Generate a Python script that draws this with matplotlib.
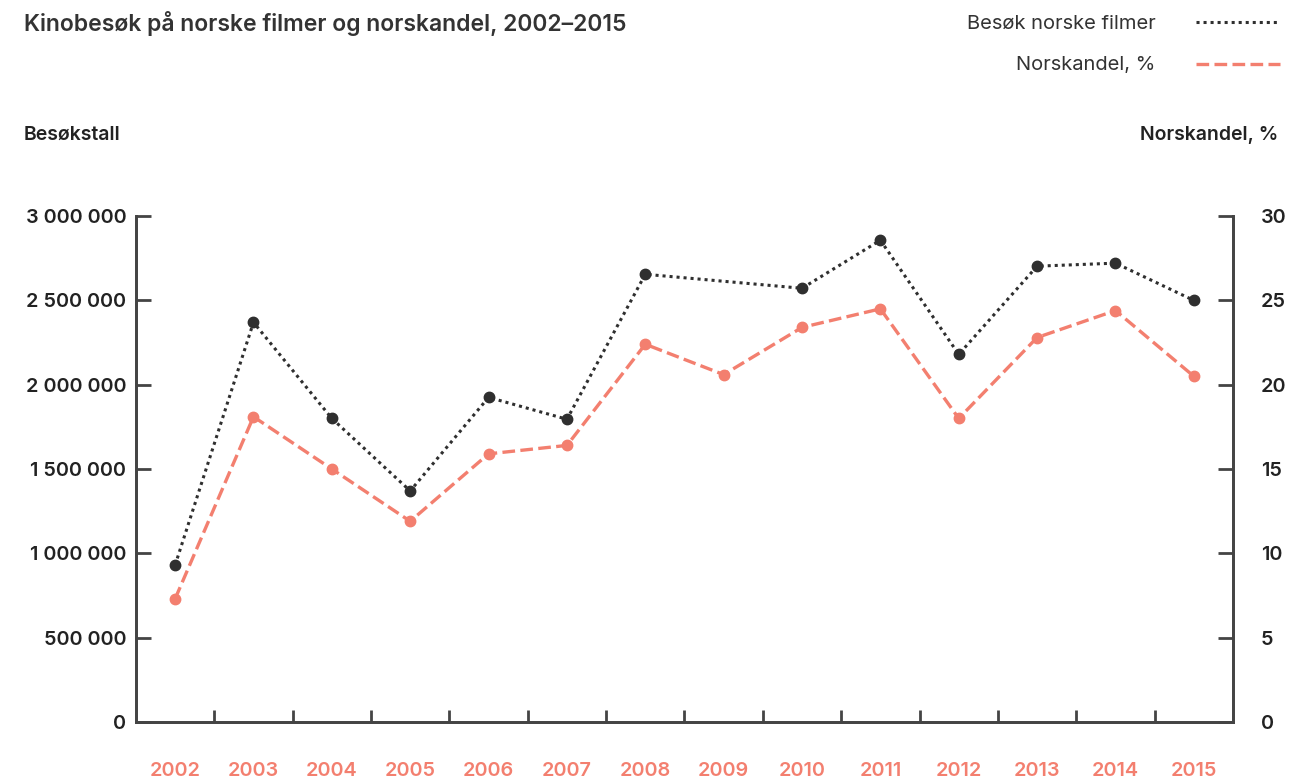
import numpy as np
import matplotlib
matplotlib.use("Agg")
import matplotlib.pyplot as plt
from matplotlib.lines import Line2D

years = [2002, 2003, 2004, 2005, 2006, 2007, 2008, 2009, 2010, 2011, 2012, 2013, 2014, 2015]
besok = [930000, 2370000, 1800000, 1370000, 1925000, 1795000, 2655000, np.nan,
         2572000, 2857000, 2180000, 2703000, 2721000, 2500000]
andel = [7.3, 18.1, 15.0, 11.9, 15.9, 16.4, 22.4, 20.6, 23.4, 24.5, 18.0, 22.8, 24.4, 20.5]
left_ticks = [0, 500000, 1000000, 1500000, 2000000, 2500000, 3000000]
right_ticks = [0, 5, 10, 15, 20, 25, 30]

plt.rcParams['font.family'] = ['Inter', 'DejaVu Sans']
dark = '#2f2f2f'
salmon = '#f37f6f'
axcol = '#444444'
dash = (0, (3.8, 1.6))

fig = plt.figure(figsize=(13.07, 7.83), dpi=100)
ax = fig.add_axes([0.104, 0.078, 0.8394, 0.646])
ax2 = ax.twinx()

x = np.arange(len(years))
b = np.array(besok, dtype=float)
ok = ~np.isnan(b)
ax.plot(x[ok], b[ok], color=dark, linestyle=(0, (1, 1.3)), linewidth=2.2,
        marker='o', markersize=7.5, zorder=3)
ax2.plot(x, andel, color=salmon, linestyle=dash, linewidth=2.4,
         marker='o', markersize=7.5, zorder=3)

ax.set_xlim(-0.5, len(years) - 0.5)
ax.set_ylim(0, 3000000)
ax2.set_ylim(0, 30)

ax.set_yticks(left_ticks)
ax.set_yticklabels([f"{v:,}".replace(",", " ") for v in left_ticks])
ax2.set_yticks(right_ticks)
ax2.set_yticklabels([str(v) for v in right_ticks])

ax.set_xticks(x)
ax.set_xticklabels([str(y) for y in years])
ax.set_xticks(x[:-1] + 0.5, minor=True)
ax.tick_params(axis='x', which='major', length=0, pad=29, labelsize=14.3,
               labelcolor=salmon)
ax.tick_params(axis='x', which='minor', direction='in', length=9, width=2, color=axcol)
ax.tick_params(axis='y', direction='in', length=11, width=2, color=axcol,
               labelsize=14.3, labelcolor='#222222', pad=7)
ax2.tick_params(axis='y', direction='in', length=11, width=2, color=axcol,
                labelsize=14.3, labelcolor='#222222', pad=20)
for lab in ax.get_xticklabels() + ax.get_yticklabels() + ax2.get_yticklabels():
    lab.set_fontweight('semibold')

for a in (ax, ax2):
    a.spines['top'].set_visible(False)
    for s in ('left', 'right', 'bottom'):
        a.spines[s].set_color(axcol)
        a.spines[s].set_linewidth(2)

fig.text(0.018, 0.970, "Kinobesøk på norske filmer og norskandel, 2002–2015",
         fontsize=16.5, fontweight='semibold', color='#333333', va='center', ha='left')
fig.text(0.018, 0.828, "Besøkstall", fontsize=14, fontweight='semibold',
         color='#222222', va='center', ha='left')
fig.text(0.978, 0.828, "Norskandel, %", fontsize=14, fontweight='semibold',
         color='#222222', va='center', ha='right')

fig.text(0.884, 0.970, "Besøk norske filmer", fontsize=14.5, color='#333333',
         va='center', ha='right')
fig.text(0.884, 0.917, "Norskandel, %", fontsize=14.5, color='#333333',
         va='center', ha='right')
fig.add_artist(Line2D([0.915, 0.979], [0.972, 0.972], transform=fig.transFigure,
                      color=dark, linestyle=(0, (1, 1.3)), linewidth=2.2))
fig.add_artist(Line2D([0.915, 0.979], [0.918, 0.918], transform=fig.transFigure,
                      color=salmon, linestyle=dash, linewidth=2.4))

fig.savefig("out.png", dpi=100, facecolor='white')
